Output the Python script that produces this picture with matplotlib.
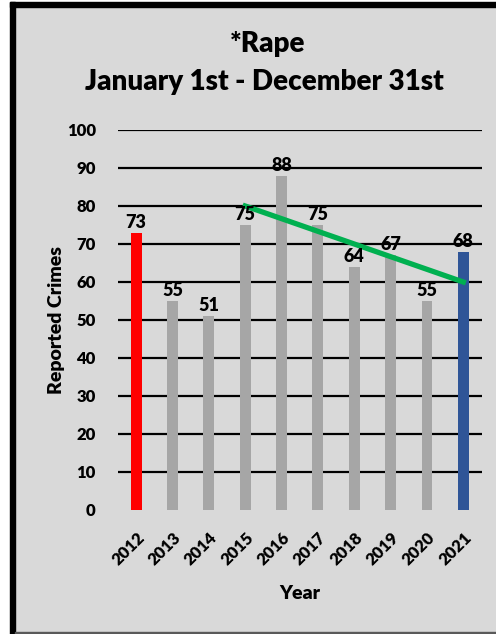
import matplotlib.pyplot as plt
import matplotlib.transforms as mtransforms
from matplotlib.patches import Rectangle

plt.rcParams['font.family'] = ['Lato', 'DejaVu Sans']
plt.rcParams['font.weight'] = 'heavy'

years = ['2012', '2013', '2014', '2015', '2016', '2017', '2018', '2019', '2020', '2021']
crimes = [73, 55, 51, 75, 88, 75, 64, 67, 55, 68]
bar_colors = ['#ff0000'] + ['#a6a6a6'] * 8 + ['#2f5597']

# trend line drawn between 2015 and 2021
trend_idx = [3, 9]
trend_vals = [80, 60]

W, H = 496, 634
bg = '#d9d9d9'
wt = 'heavy'
fig = plt.figure(figsize=(W / 100, H / 100), dpi=100, facecolor=bg)

# frame around the picture
fig.patches.append(Rectangle((0, 0), 10 / W, 1, transform=fig.transFigure, color='white', zorder=0))
fig.patches.append(Rectangle((0, 1 - 2 / H), 1, 2 / H, transform=fig.transFigure, color='white', zorder=0))
fig.patches.append(Rectangle((10 / W, 0), 5 / W, 1 - 2 / H, transform=fig.transFigure, color='black', zorder=1))
fig.patches.append(Rectangle((10 / W, 1 - 7 / H), 1, 5 / H, transform=fig.transFigure, color='black', zorder=1))
fig.patches.append(Rectangle((15 / W, 0), 1, 2 / H, transform=fig.transFigure, color='#595959', zorder=1))

ax = fig.add_axes([118 / W, 124 / H, 363.5 / W, 380 / H])
ax.set_facecolor(bg)

x = list(range(len(years)))
ax.bar(x, crimes, width=0.3, color=bar_colors, zorder=3)
for i, v in zip(x, crimes):
    ax.text(i, v + 0.5, str(v), ha='center', va='bottom', fontsize=13, fontweight=wt, zorder=5)

ax.plot(trend_idx, trend_vals, color='#00b050', lw=3.8, solid_capstyle='projecting', zorder=4)

ax.set_xlim(-0.5, len(years) - 0.5)
ax.set_ylim(0, 100)
ax.set_yticks(range(0, 101, 10))
ax.hlines(range(10, 101, 10), 0, 1, transform=ax.get_yaxis_transform(), color='black', lw=1.6, zorder=2)

ax.set_xticks(x)
ax.set_xticklabels(years, rotation=45, ha='right', va='top', rotation_mode='anchor', fontsize=12, fontweight=wt)
shift = mtransforms.ScaledTranslation(6 / 100, 0, fig.dpi_scale_trans)
for lab in ax.get_xticklabels():
    lab.set_transform(lab.get_transform() + shift)
ax.set_yticklabels([str(v) for v in range(0, 101, 10)], fontsize=12, fontweight=wt)
ax.tick_params(axis='both', length=0)
ax.tick_params(axis='y', pad=16)
ax.tick_params(axis='x', pad=14)
for s in ax.spines.values():
    s.set_visible(False)

ax.set_ylabel('Reported Crimes', fontsize=14, fontweight=wt, labelpad=1.5)
ax.set_xlabel('Year', fontsize=14, fontweight=wt, labelpad=12)

fig.text(268 / W, 1 - 44 / H, '*Rape', ha='center', va='center', fontsize=20, fontweight=wt)
fig.text(264 / W, 1 - 82 / H, 'January 1st - December 31st', ha='center', va='center', fontsize=20, fontweight=wt)

fig.savefig('out.png', dpi=100, facecolor=bg)
